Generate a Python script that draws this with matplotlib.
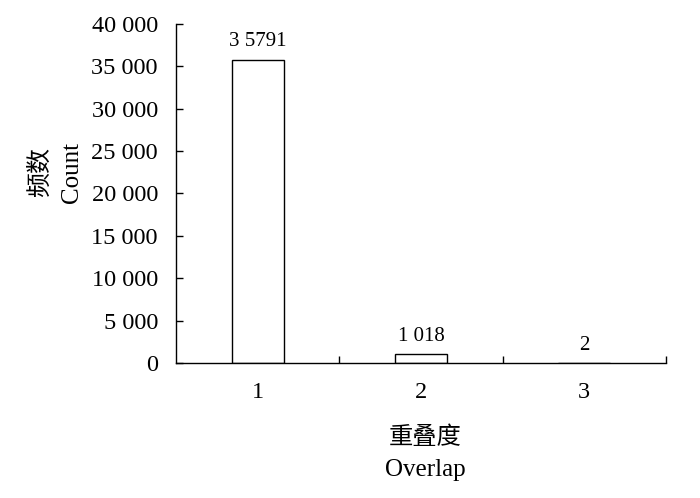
import matplotlib
matplotlib.use("Agg")
import matplotlib.pyplot as plt
from matplotlib.ticker import FuncFormatter, FixedLocator

# data
categories = ["1", "2", "3"]
counts = [35791, 1018, 2]
value_labels = ["3 5791", "1 018", "2"]

plt.rcParams['font.family'] = ['Liberation Serif', 'Noto Sans CJK SC']

fig = plt.figure(figsize=(7, 4.98), dpi=100)
ax = fig.add_axes([0.2514, 0.2711, 0.70, 0.681])

x = range(len(categories))
bars = ax.bar(x, counts, width=0.32, color='white', edgecolor='black', linewidth=1.0)

for rect, lab in zip(bars, value_labels):
    ax.annotate(lab, (rect.get_x() + rect.get_width() / 2, rect.get_height()),
                xytext=(0, 6), textcoords='offset points',
                ha='center', va='bottom', fontsize=15)

ax.set_xlim(-0.5, len(categories) - 0.5)
ax.set_ylim(0, 40000)
ax.set_yticks(range(0, 40001, 5000))
ax.yaxis.set_major_formatter(FuncFormatter(
    lambda v, p: f"{int(v):,}".replace(",", " ")))

# boundaries as ticks, labels at category centres
ax.xaxis.set_major_locator(FixedLocator([0.5, 1.5, 2.5]))
ax.xaxis.set_minor_locator(FixedLocator(list(x)))
ax.set_xticklabels([])
ax.set_xticklabels(categories, minor=True)
ax.tick_params(axis='x', which='major', direction='in', length=5, width=1)
ax.tick_params(axis='x', which='minor', length=0, pad=14, labelsize=17.5)
ax.tick_params(axis='y', direction='in', length=5, width=1, pad=13, labelsize=17.5)

for s in ['top', 'right']:
    ax.spines[s].set_visible(False)
for s in ['left', 'bottom']:
    ax.spines[s].set_linewidth(1.0)

fig.text(40 / 700, 1 - 172 / 498, "频数", rotation=90, ha='center', va='center',
         fontsize=18, family=['Noto Sans CJK SC'])
fig.text(72 / 700, 1 - 172 / 498, "Count", rotation=90, ha='center', va='center',
         fontsize=18)
fig.text(425 / 700, 1 - 437 / 498, "重叠度", ha='center', va='center',
         fontsize=17.5, family=['Noto Sans CJK SC'])
fig.text(425 / 700, 1 - 470 / 498, "Overlap", ha='center', va='center',
         fontsize=18)

fig.savefig("out.png", dpi=100)
